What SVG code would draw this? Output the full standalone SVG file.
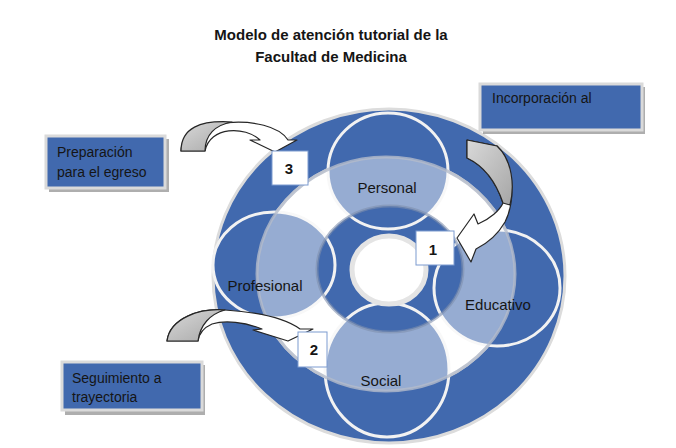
<svg xmlns="http://www.w3.org/2000/svg" width="676" height="448" viewBox="0 0 676 448">
<style>
text{font-family:"Liberation Sans",Arial,sans-serif;fill:#151515}
.title{font-weight:bold;font-size:15px;text-anchor:middle}
.lbl{font-size:15px;text-anchor:middle}
.btx{font-size:14px}
.num{font-weight:bold;font-size:15px;text-anchor:middle}
.circ{fill:#4169ae;stroke:#f2f2f2;stroke-width:3}
.box{fill:#4169ae;stroke:#dadada;stroke-width:3}
.shadow{fill:#8c8c8c;opacity:0.7}
.nbox{fill:#ffffff;stroke:#7d9bd0;stroke-width:1}
.arrow{fill:#ffffff;stroke:#262626;stroke-width:1.2;stroke-linejoin:round}
.agray{fill:url(#g);stroke:#262626;stroke-width:1.2;stroke-linejoin:round}
</style>
<defs>
<linearGradient id="g" x1="0" y1="0" x2="1" y2="1">
<stop offset="0" stop-color="#d9d9d9"/>
<stop offset="1" stop-color="#a6a6a6"/>
</linearGradient>
</defs>
<rect width="676" height="448" fill="#ffffff"/>
<g id="title">
<text class="title" x="331" y="40">Modelo de atención tutorial de la</text>
<text class="title" x="331" y="62">Facultad de Medicina</text>
</g>
<g id="base">
<path fill="#4169ae" fill-rule="evenodd" stroke="#dcdcdc" stroke-width="3" d="M213,276 a176,167 0 1,0 352,0 a176,167 0 1,0 -352,0 Z M257,274 a129,117 0 1,0 258,0 a129,117 0 1,0 -258,0 Z"/>
<ellipse cx="390" cy="269" rx="73" ry="63" fill="#4169ae"/>
</g>
<g id="node-personal"><ellipse class="circ" cx="388" cy="171" rx="60" ry="58"/></g>
<g id="node-profesional"><ellipse class="circ" cx="274" cy="265" rx="61" ry="53"/></g>
<g id="node-educativo"><ellipse class="circ" cx="497" cy="288" rx="63" ry="58"/></g>
<g id="node-social"><ellipse class="circ" cx="387" cy="370" rx="62" ry="67"/></g>
<g id="ring">
<path fill="#ffffff" fill-opacity="0.45" fill-rule="evenodd" d="M257,274 a129,117 0 1,0 258,0 a129,117 0 1,0 -258,0 Z M317,269 a73,63 0 1,0 146,0 a73,63 0 1,0 -146,0 Z"/>
<ellipse cx="386" cy="274" rx="129" ry="117" fill="none" stroke="#b4bccb" stroke-opacity="0.8" stroke-width="3"/>
<ellipse cx="390" cy="269" rx="73" ry="63" fill="none" stroke="#7f8fae" stroke-opacity="0.6" stroke-width="3"/>
<ellipse cx="389" cy="270" rx="37" ry="34" fill="#ffffff" stroke="#e4e4e4" stroke-width="5"/>
</g>
<g id="labels">
<text class="lbl" x="387" y="193">Personal</text>
<text class="lbl" x="265" y="291">Profesional</text>
<text class="lbl" x="498" y="310">Educativo</text>
<text class="lbl" x="381" y="386">Social</text>
</g>
<g id="node-preparacion">
<rect class="shadow" x="49" y="139" width="120" height="53"/>
<rect class="box" x="46" y="136" width="119" height="52"/>
<text class="btx" x="57" y="157" font-size="13.5">Preparación</text>
<text class="btx" x="57" y="177" font-size="13.5">para el egreso</text>
</g>
<g id="node-incorporacion">
<rect class="shadow" x="483" y="87" width="162" height="47"/>
<rect class="box" x="480" y="84" width="162" height="46"/>
<text class="btx" x="492" y="103" font-size="14.5">Incorporación al</text>
</g>
<g id="node-seguimiento">
<rect class="shadow" x="65" y="365" width="140" height="50"/>
<rect class="box" x="62" y="362" width="140" height="48"/>
<text class="btx" x="72" y="383">Seguimiento a</text>
<text class="btx" x="72" y="402">trayectoria</text>
</g>
<g id="connectors">
<path class="arrow" d="M181,151 C181,118 270,112 288,140 L297,140 L275,152 L250,140 L260,140 C245,126 210,126 205,151 Z"/>
<path class="agray" d="M181,151 C181,128 200,120 232,122 C215,125 205,135 205,151 Z"/>
<path class="arrow" d="M467,140 L497,146 C514,162 516,200 505,222 C497,236 486,244 476,249 L471,262 L457,238 L474,214 L478,224 C490,219 500,210 503,203 C496,182 484,166 467,158 Z"/>
<path class="agray" d="M467,140 L497,146 C512,160 515,185 510,205 L503,203 C496,182 484,166 467,158 Z"/>
<path class="arrow" d="M167,341 C170,318 200,308 225,310 C255,312 285,318 300,329 L313,329 L288,341 L253,330 L262,329 C245,322 225,320 212,324 C203,328 199,334 198,341 Z"/>
<path class="agray" d="M167,341 C170,318 200,308 225,310 C210,314 200,325 198,341 Z"/>
</g>
<g id="node-1">
<rect class="nbox" x="416" y="231" width="38" height="34"/>
<text class="num" x="433" y="255">1</text>
</g>
<g id="node-3">
<rect class="nbox" x="272" y="151" width="36" height="34"/>
<text class="num" x="289" y="174">3</text>
</g>
<g id="node-2">
<rect class="nbox" x="298" y="332" width="29" height="35"/>
<text class="num" x="314" y="355">2</text>
</g>
</svg>
